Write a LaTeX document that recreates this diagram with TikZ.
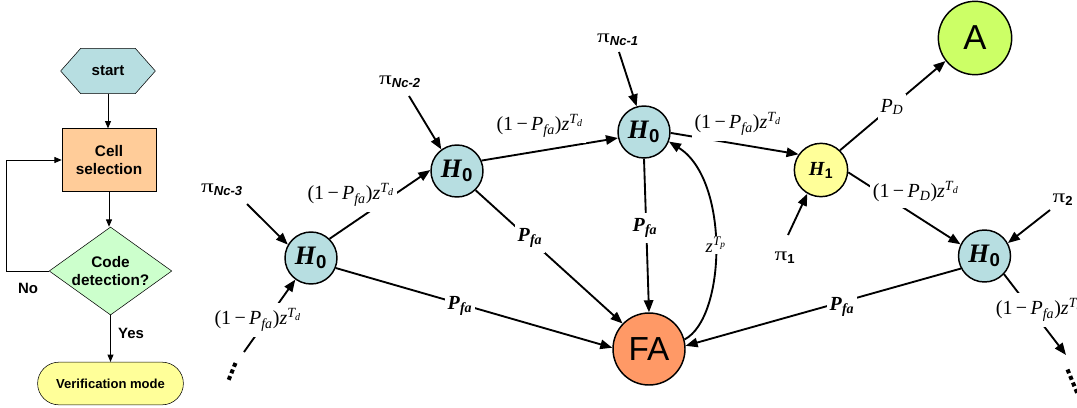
\documentclass[tikz,border=0pt]{standalone}
\usepackage{amsmath}
\usepackage{graphicx}
\usepackage{fontspec}
\setmainfont{Liberation Serif}
\newfontfamily\arial{Liberation Sans}
\usetikzlibrary{arrows.meta,shapes.geometric,shapes.symbols,shapes.misc,calc}
\definecolor{h0c}{HTML}{B7DEE1}
\definecolor{hexc}{HTML}{B7DEE1}
\definecolor{cellc}{HTML}{FFCC99}
\definecolor{diac}{HTML}{CCFFCC}
\definecolor{pillc}{HTML}{FFFF99}
\definecolor{fac}{HTML}{FF9966}
\definecolor{ac}{HTML}{CCFF66}
\definecolor{h1c}{HTML}{FFFF99}
\newcommand{\fs}[2]{\fontsize{#1}{#2}\selectfont}
\newcommand{\omP}[2]{(1\,−\,\textit{P}$_{\textit{#1}}$)\textit{z}$^{\textit{T}_{\textit{#2}}}$}
\newcommand{\Pfa}{\textbf{\textit{P}}$_{\textbf{\textit{fa}}}$}
\newcommand{\Hz}[1]{\textbf{\textit{H}}$_{\text{\arial\bfseries #1}}$}
\newcommand{\bigpi}{\scalebox{1.35}[1]{π}}
\newcommand{\piN}[1]{\bigpi$_{\text{\arial\bfseries\itshape #1}}$}
\newcommand{\piD}[1]{\bigpi$_{\text{\arial\bfseries #1}}$}
\tikzset{
  hexa/.style={signal, signal to=east and west, signal pointer angle=97, draw, fill=hexc,
    minimum width=71pt, minimum height=34pt, inner sep=0pt, font=\arial\bfseries\fs{11.3}{13}},
  cellbox/.style={rectangle, draw, fill=cellc, minimum width=70.5pt, minimum height=47pt,
    align=center, font=\arial\bfseries\fs{11.5}{13}},
  dia/.style={diamond, draw, fill=diac, minimum width=92pt, minimum height=66pt, inner sep=0pt,
    aspect=1.4, align=center, font=\arial\bfseries\fs{11.5}{14}},
  pill/.style={rounded rectangle, draw, fill=pillc, minimum width=116pt, minimum height=32pt,
    font=\arial\bfseries\fs{9.8}{11}},
  ftxt/.style={font=\arial\bfseries\fs{11.2}{13}},
  farr/.style={line width=0.75pt, -{Triangle[length=5.5pt,width=4.5pt]}},
  circ/.style={circle, draw, line width=1.1pt, inner sep=0pt},
  hz/.style={circ, fill=h0c, minimum size=39pt, font=\fs{20}{20}},
  conn/.style={line width=1.4pt, -{Triangle[length=9pt,width=7pt]}},
  lab/.style={fill=white, inner xsep=2pt, inner ysep=4pt, font=\fs{15}{15}},
  pil/.style={inner sep=1pt, font=\fs{14}{14}},
  dotsty/.style={line width=3pt, dash pattern=on 3pt off 2.3pt},
}
\begin{document}
\begin{tikzpicture}[x=0.75pt,y=-0.75pt]
\useasboundingbox (0,0) rectangle (1077,407);
\clip (0,0) rectangle (1077,407);
% ---------------- flowchart
\node[hexa] (st) at (108,71) {start};
\node[cellbox] (cs) at (109,160) {Cell\\selection};
\node[dia] (cd) at (110.5,271) {Code\\detection?};
\node[pill] (vm) at (110.5,383.5) {Verification mode};
\draw[farr] (st.south) -- (st.south |- cs.north);
\draw[farr] (cs.south) -- (cs.south |- cd.north);
\draw[farr] (cd.south) -- (cd.south |- vm.north);
\draw[farr] (cd.west) -- ++(-42.3,0) |- (cs.west);
\node[ftxt] (no) at (28,288) {No};
\node[ftxt] (yes) at (131,333) {Yes};
% ---------------- graph nodes
\node[hz] (a) at (311,258) {\Hz{0}};
\node[hz] (b) at (457,171) {\Hz{0}};
\node[hz] (c) at (644,132) {\Hz{0}};
\node[hz] (d) at (984.5,256) {\Hz{0}};
\node[circ, fill=h1c, minimum size=40pt, font=\fs{15}{15}] (h1) at (821,170) {\Hz{1}};
\node[circ, fill=fac, minimum size=54pt, font=\arial\fs{25}{25}] (fa) at (649,349) {FA};
\node[circ, fill=ac, minimum size=55pt, font=\arial\fs{26}{26}] (A) at (975,38) {A};
% pi labels
\node[pil] (p3) at (222,190) {\piN{Nc-3}};
\node[pil] (p2) at (400,82) {\piN{Nc-2}};
\node[pil] (p1) at (618,40) {\piN{Nc-1}};
\node[pil] (q1) at (785,258) {\piD{1}};
\node[pil] (q2) at (1063,200) {\piD{2}};
\coordinate (dL) at (244,352);
\coordinate (dR) at (1066,355);
% ---------------- connectors
\draw[conn] ($(p3.center)+(25,14)$) -- (a.150);
\draw[conn] ($(p2.center)+(9,14)$) -- (b.126);
\draw[conn] ($(p1.center)+(1,12)$) -- (c.106);
\draw[conn] ($(q1.center)+(3,-23)$) -- (h1.240);
\draw[conn] ($(q2.center)+(-13,10)$) -- (d.29);
\draw[conn] (dL) -- (a.234);
\draw[conn] (a.46) -- (b.178);
\draw[conn] (b.23) -- (c.193);
\draw[conn] (a.-22) -- (fa.178);
\draw[conn] (b.-46) -- (fa.136);
\draw[conn] (c.south) -- (fa.north);
\draw[conn] (fa.15) .. controls (726,318) and (730,180) .. (c.-21);
\draw[conn] (c.-2) -- (h1.145);
\draw[conn] (h1.46) -- (A.218);
\draw[conn] (h1.-5) -- (d.154);
\draw[conn] (d.208) -- (fa.5);
\draw[conn] (d.-43) -- (dR);
% dots
\draw[dotsty] (235.5,363) -- (228,381.5);
\draw[dotsty] (1067.5,369.5) -- (1078,395);
% ---------------- edge labels
\node[lab] (la) at (258,320) {\omP{fa}{d}};
\node[lab] (lab) at (351,195) {\omP{fa}{d}};
\node[lab] (lbc) at (540,126) {\omP{fa}{d}};
\node[lab] (lch) at (738,124) {\omP{fa}{d}};
\node[lab] (lhd) at (916,192) {\omP{D}{d}};
\node[lab, anchor=west] (ldo) at (993,310) {\omP{fa}{d}};
\node[lab] (lafa) at (460,306) {\Pfa};
\node[lab] (lbfa) at (530,238) {\Pfa};
\node[lab] (lcfa) at (645,228) {\Pfa};
\node[lab] (ldfa) at (842,307) {\Pfa};
\node[lab] (lha) at (892,107) {\textit{P}$_{\textit{D}}$};
\node[lab, inner sep=1pt, font=\fs{14}{14}] (lz) at (716,245) {\textit{z}$^{\textit{T}_{\textit{p}}}$};
\end{tikzpicture}
\end{document}
